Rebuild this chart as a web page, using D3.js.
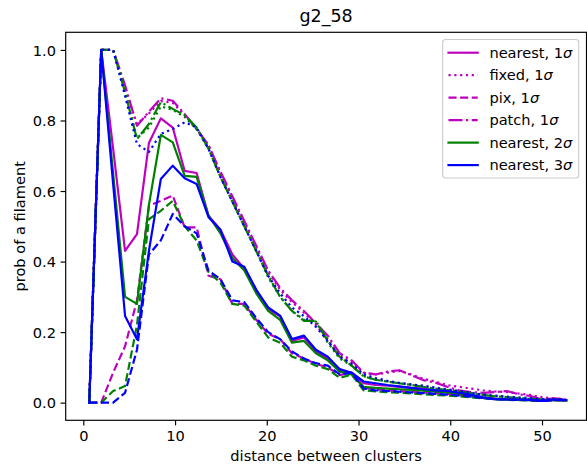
<!DOCTYPE html>
<html><head><meta charset="utf-8">
<script src="https://cdn.jsdelivr.net/npm/d3@7/dist/d3.min.js"></script>
<style>body{margin:0;background:#fff}svg{display:block;font-family:"DejaVu Sans",sans-serif}</style>
</head><body><svg id="c" width="587" height="466"></svg>
<script>
// distance bin centres
const distances = d3.range(41).map(k => +(0.65 + 1.3 * k).toFixed(2));
const xTicks = [0, 10, 20, 30, 40, 50];
const yTicks = [0.0, 0.2, 0.4, 0.6, 0.8, 1.0];

// sigma 1 (magenta)
const nearest1 = [0,1.0,0.72,0.43,0.478,0.736,0.806,0.78,0.657,0.651,0.53,0.49,0.42,0.38,0.32,0.265,0.245,0.175,0.185,0.145,0.125,0.09,0.085,0.055,0.05,0.048,0.045,0.042,0.04,0.036,0.033,0.028,0.022,0.015,0.011,0.01,0.009,0.008,0.006,0.009,0.007];
const fixed1   = [0,1.0,1.0,0.89,0.79,0.82,0.855,0.85,0.815,0.775,0.73,0.65,0.58,0.51,0.44,0.37,0.32,0.285,0.255,0.22,0.18,0.135,0.115,0.085,0.08,0.085,0.09,0.08,0.068,0.06,0.05,0.045,0.04,0.035,0.032,0.03,0.026,0.022,0.015,0.012,0.009];
const pix1     = [0,0,0.085,0.16,0.29,0.558,0.572,0.587,0.497,0.497,0.36,0.35,0.28,0.28,0.235,0.195,0.18,0.14,0.125,0.11,0.10,0.078,0.085,0.042,0.038,0.035,0.033,0.031,0.029,0.027,0.025,0.022,0.018,0.014,0.011,0.01,0.009,0.008,0.006,0.008,0.006];
const patch1   = [0,1.0,1.0,0.9,0.785,0.825,0.863,0.856,0.818,0.776,0.73,0.655,0.585,0.515,0.445,0.375,0.325,0.29,0.26,0.225,0.19,0.14,0.12,0.085,0.08,0.088,0.092,0.078,0.064,0.057,0.045,0.035,0.03,0.028,0.03,0.033,0.024,0.019,0.009,0.012,0.009];
// sigma 2 (green)
const nearest2 = [0,1.0,0.65,0.30,0.28,0.56,0.759,0.738,0.643,0.64,0.53,0.48,0.41,0.375,0.31,0.26,0.235,0.17,0.175,0.14,0.12,0.088,0.08,0.045,0.042,0.040,0.038,0.036,0.034,0.031,0.029,0.025,0.02,0.014,0.01,0.009,0.008,0.007,0.005,0.008,0.006];
const fixed2   = [0,1.0,1.0,0.88,0.75,0.78,0.84,0.83,0.81,0.775,0.72,0.64,0.57,0.50,0.43,0.355,0.30,0.26,0.235,0.23,0.17,0.125,0.105,0.075,0.065,0.06,0.055,0.05,0.045,0.04,0.036,0.032,0.027,0.022,0.018,0.016,0.013,0.011,0.009,0.009,0.007];
const pix2     = [0,0,0.033,0.047,0.22,0.52,0.544,0.572,0.50,0.46,0.37,0.34,0.28,0.275,0.23,0.185,0.17,0.13,0.12,0.105,0.095,0.07,0.08,0.035,0.032,0.03,0.028,0.026,0.024,0.022,0.02,0.018,0.015,0.012,0.01,0.008,0.007,0.006,0.005,0.007,0.006];
const patch2   = [0,1.0,1.0,0.88,0.747,0.79,0.852,0.833,0.815,0.78,0.72,0.64,0.57,0.50,0.43,0.36,0.30,0.26,0.232,0.232,0.175,0.13,0.105,0.075,0.065,0.06,0.055,0.05,0.045,0.04,0.036,0.032,0.027,0.022,0.018,0.016,0.013,0.011,0.009,0.009,0.007];
// sigma 3 (blue)
const nearest3 = [0,1.0,0.62,0.246,0.18,0.43,0.634,0.672,0.636,0.62,0.526,0.49,0.40,0.385,0.32,0.27,0.247,0.18,0.19,0.15,0.13,0.095,0.085,0.060,0.055,0.050,0.046,0.042,0.038,0.035,0.033,0.028,0.022,0.015,0.010,0.009,0.009,0.008,0.005,0.009,0.007];
const fixed3   = [0,1.0,1.0,0.87,0.733,0.711,0.762,0.776,0.795,0.78,0.72,0.64,0.57,0.50,0.43,0.36,0.31,0.27,0.245,0.215,0.175,0.13,0.11,0.08,0.07,0.062,0.056,0.052,0.048,0.043,0.038,0.033,0.028,0.023,0.02,0.017,0.015,0.013,0.01,0.01,0.008];
const pix3     = [0,0,0,0.028,0.15,0.42,0.46,0.535,0.50,0.48,0.374,0.35,0.29,0.285,0.24,0.20,0.18,0.145,0.125,0.112,0.105,0.08,0.085,0.04,0.035,0.033,0.031,0.029,0.027,0.025,0.023,0.02,0.017,0.013,0.01,0.009,0.008,0.007,0.005,0.007,0.006];

const colors = {1: "#bf00bf", 2: "#008000", 3: "#0000ff"};
const dashes = {nearest: null, fixed: "2.19,3.61", pix: "8.1,3.5", patch: "14,3.5,2.19,3.5"};
const series = [
  {name:"nearest", s:1, v:nearest1},
  {name:"fixed", s:1, v:fixed1},
  {name:"pix", s:1, v:pix1},
  {name:"patch", s:1, v:patch1},
  {name:"nearest", s:2, v:nearest2},
  {name:"fixed", s:2, v:fixed2},
  {name:"pix", s:2, v:pix2},
  {name:"patch", s:2, v:patch2},
  {name:"nearest", s:3, v:nearest3},
  {name:"fixed", s:3, v:fixed3},
  {name:"pix", s:3, v:pix3}
];
const legendOrder = [0,1,2,3,4,8];

const L = 65.7, R = 586.5, T = 32.3, B = 420.3;
const x = d3.scaleLinear().domain([-1.92, 54.85]).range([L, R]);
const y = d3.scaleLinear().domain([-0.05, 1.05]).range([B, T]);
const fs = 14.6, lw = 2.19, tl = 5.1;

const svg = d3.select("#c");
svg.append("defs").append("clipPath").attr("id","clip")
  .append("rect").attr("x",L).attr("y",T).attr("width",R-L).attr("height",B-T);

const line = d3.line().x((d,i)=>x(distances[i])).y(d=>y(d));
const g = svg.append("g").attr("clip-path","url(#clip)");
series.forEach(s => {
  g.append("path").attr("d", line(s.v)).attr("fill","none")
    .attr("stroke", colors[s.s]).attr("stroke-width", lw)
    .attr("stroke-linejoin","round")
    .attr("stroke-linecap", s.name==="nearest" ? "square" : "butt")
    .attr("stroke-dasharray", dashes[s.name]);
});

// axes
const xAxis = d3.axisBottom(x).tickValues(xTicks).tickSize(tl).tickPadding(4.6).tickFormat(d3.format("d"));
const yAxis = d3.axisLeft(y).tickValues(yTicks).tickSize(tl).tickPadding(4.6).tickFormat(d3.format(".1f"));
const gx = svg.append("g").attr("transform",`translate(0,${B})`).call(xAxis);
const gy = svg.append("g").attr("transform",`translate(${L},0)`).call(yAxis);
[gx,gy].forEach(a=>{
  a.select(".domain").remove();
  a.selectAll(".tick line").attr("stroke","#000").attr("stroke-width",1.17);
  a.selectAll(".tick text").attr("fill","#000").attr("font-size",fs).attr("font-family","DejaVu Sans");
});
gy.selectAll(".tick text").attr("dy","0.36em");
gx.selectAll(".tick text").attr("dy","0.74em");

svg.append("rect").attr("x",L).attr("y",T).attr("width",R-L).attr("height",B-T)
  .attr("fill","none").attr("stroke","#000").attr("stroke-width",1.17);

svg.append("text").attr("x",(L+R)/2).attr("y",22).attr("text-anchor","middle")
  .attr("font-size",17.5).text("g2_58");
svg.append("text").attr("x",(L+R)/2).attr("y",461).attr("text-anchor","middle")
  .attr("font-size",fs).text("distance between clusters");
svg.append("text").attr("transform",`translate(19.5,${(T+B)/2}) rotate(-90)`)
  .attr("text-anchor","middle").attr("dy","0.35em").attr("font-size",fs).text("prob of a filament");

// legend
const lg = svg.append("g");
lg.append("rect").attr("x",442.7).attr("y",39.5).attr("width",136).attr("height",138.5)
  .attr("rx",2.9).attr("fill","#fff").attr("fill-opacity",0.8).attr("stroke","#cccccc").attr("stroke-width",1.17);
legendOrder.forEach((idx,i)=>{
  const s = series[idx];
  const cy = 52.7 + i*22.48;
  lg.append("line").attr("x1",448.5).attr("x2",477.7).attr("y1",cy).attr("y2",cy)
    .attr("stroke",colors[s.s]).attr("stroke-width",lw).attr("stroke-dasharray",dashes[s.name])
    .attr("stroke-linecap", s.name==="nearest" ? "square" : "butt");
  const t = lg.append("text").attr("x",489.4).attr("y",cy).attr("dy","0.36em").attr("font-size",fs);
  t.append("tspan").text(`${s.name}, ${s.s}`);
  t.append("tspan").attr("font-style","italic").text("σ");
});
</script></body></html>
